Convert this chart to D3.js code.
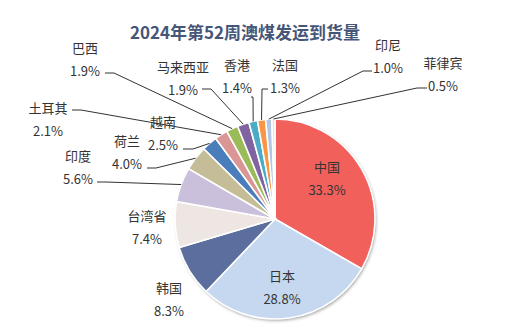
<!DOCTYPE html>
<html><head><meta charset="utf-8">
<script src="https://cdn.jsdelivr.net/npm/d3@7"></script>
<style>
html,body{margin:0;padding:0;background:#fff;}
svg{display:block;font-family:"Noto Sans CJK SC","Microsoft YaHei",sans-serif;}
</style></head>
<body>
<svg id="c" width="505" height="331"></svg>
<script>
const title = "2024年第52周澳煤发运到货量";
const categories = ["中国","日本","韩国","台湾省","印度","荷兰","越南","土耳其","巴西","马来西亚","香港","法国","印尼","菲律宾"];
const shares = [33.3, 28.8, 8.3, 7.4, 5.6, 4.0, 2.5, 2.1, 1.9, 1.9, 1.4, 1.3, 1.0, 0.5];
const colors = ["#F2605C","#C5D8F0","#5B6E9E","#EEE6E2","#CBC0DB","#C4BD97","#4A7EBB","#D99694","#9BBB59","#8064A2","#4BACC6","#F79646","#B3C6E4","#F2DCDB"];

// label layout: name centre (x,y); leader: text-side point and knee point (null = no leader)
const labelPos = [
  [327,166,null,null],
  [282,275,null,null],
  [169,287,null,null],
  [147,215,null,null],
  [78,155,[97,182],[106,182]],
  [127,140,[147,168],[156,168]],
  [163,121,[183,149],[193,149]],
  [48,107,[72,110],[81,110]],
  [85,47,[105,73],[114,73]],
  [183,66,[202,89],[211,89]],
  [237,64,[251,97],[253,97]],
  [285,64,[268,89],[262,89]],
  [388,44,[372,71],[363,71]],
  [443,62,[427,88],[417,88]]
];

const svg = d3.select("#c");
const cx = 275, cy = 219, R = 100;

const defs = svg.append("defs");
const f = defs.append("filter").attr("id","sh").attr("x","-20%").attr("y","-20%").attr("width","140%").attr("height","140%");
f.append("feDropShadow").attr("dx",1.2).attr("dy",1.8).attr("stdDeviation",1.8).attr("flood-color","#000").attr("flood-opacity",0.35);

svg.append("text").attr("x",245).attr("y",31).attr("text-anchor","middle").attr("dominant-baseline","central")
  .attr("font-size",17).attr("font-weight","bold").attr("fill","#465678").text(title);

const data = categories.map((c,i)=>({name:c, value:shares[i], color:colors[i], lp:labelPos[i]}));
const pie = d3.pie().value(d=>d.value).sort(null);
const arcs = pie(data);
const arc = d3.arc().innerRadius(0).outerRadius(R);

const g = svg.append("g").attr("transform",`translate(${cx},${cy})`);
g.append("circle").attr("r",R).attr("fill","#fff").attr("filter","url(#sh)");
g.selectAll("path.s").data(arcs).join("path").attr("class","s")
  .attr("d",arc).attr("fill",d=>d.data.color).attr("stroke","#fff").attr("stroke-width",1.6);

// leaders
arcs.forEach(a=>{
  const lp = a.data.lp;
  if(!lp[2]) return;
  const m = (a.startAngle+a.endAngle)/2;
  const ex = cx + R*Math.sin(m), ey = cy - R*Math.cos(m);
  svg.append("polyline").attr("points",`${lp[2][0]},${lp[2][1]} ${lp[3][0]},${lp[3][1]} ${ex},${ey}`)
    .attr("fill","none").attr("stroke","#333").attr("stroke-width",1);
});

const lab = svg.append("g").attr("font-size",13).attr("fill","#333").attr("text-anchor","middle");
arcs.forEach(a=>{
  const lp = a.data.lp;
  lab.append("text").attr("x",lp[0]).attr("y",lp[1]).attr("dominant-baseline","central").text(a.data.name);
  lab.append("text").attr("x",lp[0]).attr("y",lp[1]+23).attr("dominant-baseline","central").text(a.data.value.toFixed(1)+"%");
});
</script>
</body></html>
